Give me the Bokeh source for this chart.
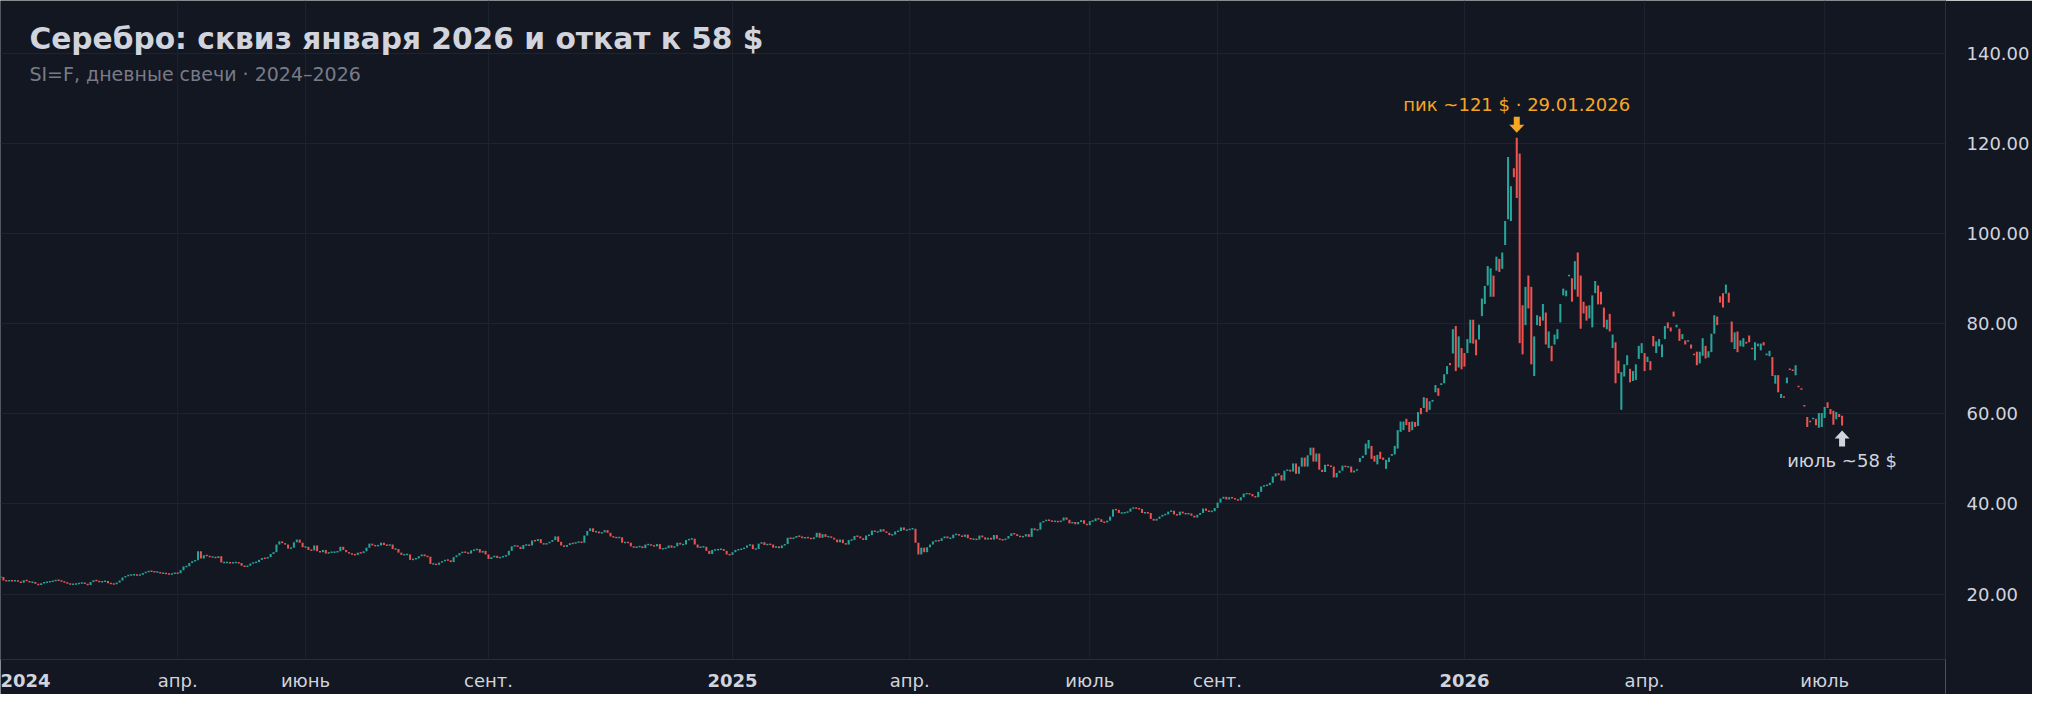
from bokeh.plotting import figure
from bokeh.models import Range1d, FixedTicker, Label, ColumnDataSource, NumeralTickFormatter, Span
from bokeh.core.properties import value
from bokeh.embed import file_html
from bokeh.resources import INLINE

# ---------------- data ----------------
# Daily closes Jan 2024 .. mid Oct 2025 (bar index 0..467); open = previous close
closes_2024_2025 = [
    23.8, 23.0, 22.9, 23.0, 22.9, 23.0, 22.8, 22.5, 23.1, 22.9,
    22.6, 22.7, 22.3, 22.0, 22.4, 22.6, 22.7, 22.8, 22.9, 23.1,
    23.0, 22.8, 22.6, 22.3, 22.2, 22.2, 22.3, 22.4, 22.5, 22.3,
    22.0, 22.7, 23.1, 22.9, 22.7, 22.8, 22.9, 22.4, 22.3, 22.2,
    22.6, 23.0, 23.7, 24.0, 24.2, 24.3, 24.3, 24.2, 24.3, 24.7,
    24.9, 25.1, 25.0, 24.9, 24.9, 24.6, 24.6, 24.5, 24.4, 24.5,
    24.7, 24.6, 25.3, 26.1, 26.2, 26.9, 27.3, 27.5, 29.5, 27.9,
    28.6, 28.5, 28.2, 28.3, 28.0, 28.4, 27.0, 27.0, 27.0, 26.9,
    27.0, 27.0, 26.9, 26.3, 26.1, 26.3, 26.8, 27.0, 27.1, 27.6,
    28.0, 27.9, 28.2, 28.9, 29.3, 31.0, 31.7, 31.3, 31.0, 30.1,
    30.3, 31.5, 32.1, 31.4, 30.4, 30.5, 29.8, 29.7, 30.8, 29.5,
    29.3, 29.8, 29.0, 29.3, 29.3, 29.3, 29.5, 30.5, 29.8, 29.3,
    29.0, 28.8, 28.7, 29.2, 29.1, 29.5, 30.3, 31.2, 30.8, 30.7,
    30.8, 31.4, 30.9, 30.8, 31.0, 30.0, 30.0, 29.2, 28.7, 28.8,
    28.8, 27.6, 27.8, 27.9, 28.4, 28.8, 28.4, 28.3, 26.7, 26.7,
    26.5, 27.0, 27.3, 27.6, 27.5, 27.1, 28.2, 28.6, 29.1, 29.4,
    29.2, 29.0, 29.7, 29.8, 30.0, 29.2, 29.6, 28.8, 27.8, 28.2,
    28.5, 28.0, 28.2, 28.4, 28.6, 29.6, 30.6, 30.8, 30.5, 30.0,
    30.9, 30.9, 30.8, 31.9, 31.8, 32.2, 31.3, 31.0, 31.3, 31.6,
    32.0, 32.8, 31.6, 30.8, 30.5, 30.9, 31.3, 31.2, 31.5, 31.6,
    31.4, 33.0, 34.0, 34.6, 33.8, 33.9, 33.5, 33.7, 34.2, 33.6,
    32.8, 32.6, 32.5, 32.6, 31.4, 31.5, 31.4, 30.6, 30.3, 30.5,
    30.6, 30.2, 31.0, 31.0, 30.8, 30.6, 31.1, 30.0, 30.1, 30.2,
    30.8, 30.3, 30.6, 31.4, 31.0, 31.0, 32.0, 32.2, 32.3, 31.0,
    30.3, 30.5, 30.5, 29.6, 28.9, 29.8, 29.8, 29.9, 30.0, 29.6,
    28.8, 28.7, 29.3, 29.8, 29.9, 30.0, 30.3, 30.8, 31.0, 30.0,
    30.0, 31.2, 31.5, 30.9, 31.1, 31.0, 30.3, 30.6, 30.2, 30.8,
    31.1, 32.5, 32.3, 32.5, 32.9, 32.8, 32.4, 32.6, 32.5, 32.2,
    32.6, 33.6, 32.5, 33.3, 32.7, 32.8, 32.5, 32.1, 31.5, 32.1,
    31.3, 31.0, 32.0, 32.0, 32.9, 32.8, 32.4, 32.0, 33.0, 33.1,
    34.1, 33.8, 33.8, 34.4, 33.9, 33.6, 33.1, 33.2, 33.9, 34.0,
    34.8, 34.2, 34.2, 34.5, 34.5, 31.4, 28.8, 30.3, 29.3, 30.4,
    31.0, 31.7, 31.9, 31.8, 32.4, 32.8, 32.4, 32.4, 33.2, 33.3,
    33.0, 32.7, 33.2, 32.4, 32.2, 32.2, 32.1, 33.0, 32.6, 32.1,
    32.5, 32.1, 33.1, 32.3, 32.1, 32.0, 32.3, 32.9, 33.5, 33.3,
    32.9, 32.7, 32.8, 33.3, 32.7, 34.6, 34.2, 34.3, 35.9, 36.2,
    36.5, 36.3, 36.1, 36.2, 36.0, 36.3, 37.0, 36.5, 35.7, 36.0,
    35.5, 36.0, 36.4, 35.6, 35.3, 36.2, 36.2, 36.8, 36.6, 36.0,
    35.9, 36.3, 37.2, 38.8, 38.7, 38.0, 38.0, 38.1, 38.3, 39.0,
    39.2, 39.0, 38.9, 38.0, 38.1, 38.0, 36.7, 36.3, 36.7, 37.2,
    37.6, 37.7, 38.3, 38.5, 37.7, 37.5, 38.3, 37.9, 37.8, 37.9,
    37.4, 37.0, 37.6, 38.0, 39.0, 38.5, 38.3, 38.4, 39.1, 40.3,
    41.2, 41.6, 41.0, 41.5, 41.3, 41.0, 40.8, 41.5, 42.3, 42.3,
    42.2, 41.7, 41.5, 42.7, 43.9, 44.1, 44.2, 44.7, 46.1, 46.8,
    46.4, 45.2, 47.4, 47.6, 47.2, 49.0, 46.7, 48.3, 50.3, 48.3,
    50.8, 52.5, 49.4, 51.2, 47.6, 47.1, 48.7, 48.5, 48.3, 45.9,
    46.9, 47.4, 48.5, 48.2, 48.3, 47.0, 47.4, 47.7,
]

# Oct 2025 .. Jul 2026 (bar index 468..634): explicit open / close
opens_late = [
    49.3, 50.2, 50.9, 52.3, 52.9, 50.7, 48.8, 51.6, 50.3, 47.8,
    49.3, 50.7, 51.0, 52.3, 56.0, 56.4, 58.9, 58.2, 56.4, 58.2,
    57.3, 61.3, 61.3, 63.5, 60.9, 62.7, 64.8, 65.7, 66.4, 66.8,
    68.8, 71.3, 73.4, 79.5, 70.3, 74.6, 73.5, 73.5, 75.7, 80.9,
    76.5, 76.5, 81.7, 84.4, 88.5, 86.0, 90.7, 91.8, 94.4, 92.2,
    97.5, 103.2, 102.8, 114.5, 121.3, 117.8, 84.1, 79.7, 90.7, 88.2,
    68.4, 79.7, 81.6, 80.7, 82.5, 74.6, 75.1, 75.4, 76.6, 80.3,
    86.3, 86.1, 90.6, 90.1, 87.6, 95.8, 90.7, 84.9, 84.0, 81.2,
    79.2, 86.8, 88.5, 87.1, 83.6, 78.8, 82.2, 74.6, 75.9, 71.8,
    60.9, 68.3, 70.8, 70.0, 67.3, 67.5, 72.2, 73.5, 73.5, 71.5,
    71.7, 77.3, 73.5, 75.0, 72.6, 76.6, 80.3, 79.2, 82.7, 79.2,
    78.9, 76.6, 76.3, 76.1, 75.4, 73.3, 73.8, 71.2, 72.9, 75.1,
    72.5, 73.7, 77.8, 81.6, 86.1, 86.8, 86.7, 86.9, 80.5, 74.4,
    78.3, 75.0, 74.9, 76.0, 77.4, 74.6, 71.9, 75.0, 74.1, 75.9,
    73.0, 72.8, 72.6, 66.7, 68.6, 63.5, 63.9, 66.8, 70.0, 69.8,
    68.6, 66.2, 65.6, 61.9, 59.3, 58.4, 58.8, 58.9, 56.9, 57.1,
    59.1, 62.6, 61.1, 60.7, 58.8, 60.0, 59.6,
]
closes_late = [
    50.2, 50.7, 53.4, 54.2, 50.0, 49.4, 50.9, 50.0, 49.8, 49.8,
    50.3, 51.1, 52.9, 56.4, 58.3, 58.3, 57.5, 56.0, 58.3, 57.1,
    60.4, 59.9, 63.7, 60.4, 62.8, 63.1, 66.4, 64.0, 66.8, 68.8,
    70.6, 70.8, 78.8, 69.5, 77.2, 69.9, 70.5, 76.6, 80.9, 75.6,
    73.0, 79.8, 85.6, 88.4, 92.8, 92.3, 86.0, 94.9, 91.5, 95.8,
    102.8, 117.0, 110.5, 112.5, 107.9, 75.7, 73.2, 88.2, 83.4, 71.0,
    77.2, 81.9, 79.5, 84.4, 75.4, 78.3, 71.7, 77.6, 78.8, 84.4,
    87.8, 87.4, 90.8, 84.9, 93.9, 86.0, 78.9, 82.3, 80.7, 84.1,
    86.3, 89.5, 84.3, 84.3, 79.2, 80.9, 78.3, 77.6, 66.8, 69.0,
    69.3, 71.0, 73.0, 67.0, 69.5, 71.0, 75.1, 75.7, 69.5, 72.7,
    69.7, 75.0, 76.1, 76.6, 75.4, 79.5, 79.0, 78.3, 81.6, 79.8,
    76.2, 77.7, 75.4, 76.3, 74.5, 73.1, 70.8, 73.8, 76.8, 72.3,
    73.9, 77.8, 81.9, 79.7, 84.7, 83.6, 88.7, 84.7, 75.9, 78.1,
    73.7, 76.3, 76.8, 75.6, 75.9, 74.4, 75.9, 75.6, 75.6, 75.2,
    73.4, 74.0, 68.4, 68.6, 64.8, 64.4, 63.6, 68.1, 69.8, 69.6,
    70.8, 66.0, 65.4, 61.7, 57.1, 58.2, 59.1, 57.5, 60.2, 60.2,
    61.5, 61.3, 59.9, 57.6, 60.4, 59.3, 57.4,
]

price_ticks = [20, 40, 60, 80, 100, 120, 140]
time_tick_idx = [0, 61, 105, 168, 252, 313, 375, 419, 504, 566, 628]
time_tick_labels = ["2024", "апр.", "июнь", "сент.", "2025", "апр.", "июль", "сент.", "2026", "апр.", "июль"]
year_labels = {"2024", "2025", "2026"}

title_text = "Серебро: сквиз января 2026 и откат к 58 $"
subtitle_text = "SI=F, дневные свечи · 2024–2026"
peak_idx = 522
peak_text = "пик ~121 $ · 29.01.2026"
last_text = "июль ~58 $"

# ---------------- styling / geometry ----------------
BG = "#131722"
GRID = "#1f2330"
BORDER = "#2a2e39"
TEXT = "#d1d4dc"
SUB = "#787b86"
UP = "#26a69a"
DOWN = "#ef5350"
ORANGE = "#f5a623"
FONT = "DejaVu Sans"

W, H = 2032, 694
FRAME_W = 1950            # price scale border at x = 1950
BR = W - FRAME_W
X0, X1 = 0.0, 669.6       # bar index range across the pane
PX_X = FRAME_W / (X1 - X0)
K = 659 / 667             # slight vertical squeeze so the time labels fit the canvas
PX_Y = 4.56 * K           # px per dollar
Y1 = 692 / 4.56           # price at the top edge
Y0 = Y1 - H / PX_Y        # price at the bottom edge (below the time scale)
TIME_BORDER = (692 - 667) / 4.56   # time scale border line
TIME_LABEL_Y = (692 - 688) / 4.56  # time scale label centre


def ypx(py):
    """price value at a pixel row measured from the top"""
    return Y1 - py / PX_Y


# ---------------- candles ----------------
opens = [closes_2024_2025[0]] + closes_2024_2025[:-1] + opens_late
closes = closes_2024_2025 + closes_late
xs = list(range(len(closes)))
tops, bottoms, colors = [], [], []
MIN_H = 1.5 / PX_Y
for o, c in zip(opens, closes):
    t, b = max(o, c), min(o, c)
    if t - b < MIN_H:
        m = (t + b) / 2
        t, b = m + MIN_H / 2, m - MIN_H / 2
    tops.append(t)
    bottoms.append(b)
    colors.append(UP if c >= o else DOWN)

src = ColumnDataSource(dict(x=xs, top=tops, bottom=bottoms, color=colors))

p = figure(width=W, height=H, x_range=Range1d(X0, X1), y_range=Range1d(Y0, Y1),
           x_axis_location=None, y_axis_location="right",
           output_backend="svg", toolbar_location=None,
           min_border_left=0, min_border_right=BR, min_border_top=0, min_border_bottom=0)
p.background_fill_color = BG
p.border_fill_color = BG
p.outline_line_color = None

# horizontal grid (price ticks)
p.ygrid.ticker = FixedTicker(ticks=price_ticks)
p.ygrid.grid_line_color = GRID
p.xgrid.visible = False
# vertical grid (time ticks), stopping at the time-scale border
p.segment(x0=time_tick_idx, x1=time_tick_idx, y0=[TIME_BORDER] * len(time_tick_idx),
          y1=[Y1] * len(time_tick_idx), line_color=GRID, line_width=1)

# time scale border
p.add_layout(Span(location=TIME_BORDER, dimension="width", line_color=BORDER, line_width=1))

# price axis
ya = p.yaxis[0]
ya.ticker = FixedTicker(ticks=price_ticks)
ya.formatter = NumeralTickFormatter(format="0.00")
ya.bounds = (TIME_BORDER, Y1)
ya.major_tick_line_color = None
ya.minor_tick_line_color = None
ya.axis_line_color = BORDER
ya.major_label_text_font = FONT
ya.major_label_text_font_size = "18px"
ya.major_label_text_color = TEXT
ya.major_label_standoff = 15

# candles
p.vbar(x="x", width=0.7, top="top", bottom="bottom", fill_color="color",
       line_color=None, source=src)

# time scale labels (years bold, months regular)
tsrc = ColumnDataSource(dict(
    x=time_tick_idx,
    y=[TIME_LABEL_Y] * len(time_tick_idx),
    text=time_tick_labels,
    style=["bold" if t in year_labels else "normal" for t in time_tick_labels],
    align=["left" if i == 0 else "center" for i in range(len(time_tick_idx))],
))
p.text(x="x", y="y", text="text", text_font=value(FONT), text_font_size=value("18px"),
       text_font_style="style", text_align="align", text_baseline=value("middle"),
       text_color=TEXT, source=tsrc)

# markers
def arrow(xc, y_tip, down):
    sgn = 1 if down else -1
    pts = [(0, 0), (7.5, 8), (3, 8), (3, 16), (-3, 16), (-3, 8), (-7.5, 8)]
    return ([xc + dx / PX_X for dx, dy in pts], [y_tip + sgn * dy / PX_Y for dx, dy in pts])

pk_top = tops[peak_idx]
last_idx = len(closes) - 1
last_bot = bottoms[last_idx]
ax1, ay1 = arrow(peak_idx, pk_top + 5 / PX_Y, True)
ax2, ay2 = arrow(last_idx, last_bot - 5 / PX_Y, False)
p.patches(xs=[ax1, ax2], ys=[ay1, ay2], fill_color=[ORANGE, TEXT], line_color=None)

p.add_layout(Label(x=peak_idx, y=pk_top + (5 + 16 + 12) / PX_Y, text=peak_text,
                   text_font=FONT, text_font_size="18px", text_color=ORANGE,
                   text_align="center", text_baseline="middle"))
p.add_layout(Label(x=last_idx, y=last_bot - (5 + 16 + 14) / PX_Y, text=last_text,
                   text_font=FONT, text_font_size="18px", text_color=TEXT,
                   text_align="center", text_baseline="middle"))

# title / subtitle
p.add_layout(Label(x=X0 + 29 / PX_X, y=ypx(38 * K), text=title_text, text_font=FONT,
                   text_font_size="29.7px", text_font_style="bold", text_color=TEXT,
                   text_align="left", text_baseline="middle"))
p.add_layout(Label(x=X0 + 29 / PX_X, y=ypx(74 * K), text=subtitle_text, text_font=FONT,
                   text_font_size="19px", text_color=SUB,
                   text_align="left", text_baseline="middle"))

open("out.html", "w").write(file_html(p, INLINE))
